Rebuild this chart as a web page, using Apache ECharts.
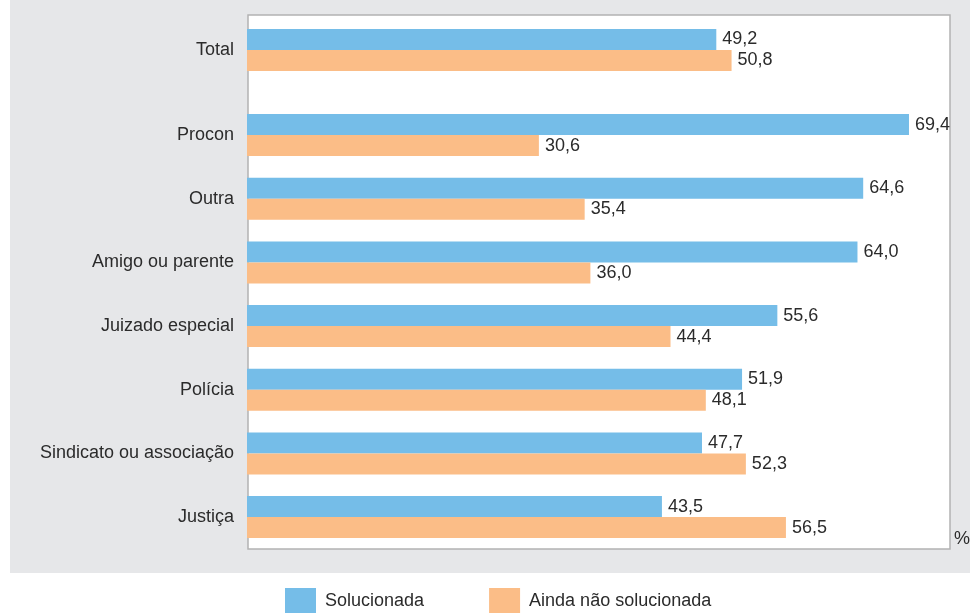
<!DOCTYPE html>
<html>
<head>
<meta charset="utf-8">
<script src="https://cdn.jsdelivr.net/npm/echarts@6/dist/echarts.min.js"></script>
<style>
  html, body { margin: 0; padding: 0; background: #fff; }
  #chart { width: 970px; height: 613px; }
</style>
</head>
<body>
<div id="chart"></div>
<script>
// dados (%)
const totalLabel = ['Total']
const totalSolucionada = [49.2]
const totalNaoSolucionada = [50.8]

const categorias = ['Procon', 'Outra', 'Amigo ou parente', 'Juizado especial', 'Polícia', 'Sindicato ou associação', 'Justiça']
const solucionada = [69.4, 64.6, 64.0, 55.6, 51.9, 47.7, 43.5]
const naoSolucionada = [30.6, 35.4, 36.0, 44.4, 48.1, 52.3, 56.5]

const azul = '#75bde8'
const laranja = '#fbbd87'
const textColor = '#2b2b2b'
const font = 'Liberation Sans, Arial, sans-serif'

const chart = echarts.init(document.getElementById('chart'))

const label = {
  show: true,
  position: 'right',
  distance: 6,
  color: textColor,
  fontSize: 18,
  fontFamily: font,
  formatter: p => p.value.toFixed(1).replace('.', ',')
}

function barra(name, data, color, idx) {
  return {
    name: name,
    type: 'bar',
    xAxisIndex: idx,
    yAxisIndex: idx,
    data: data,
    barWidth: 21,
    barGap: 0,
    itemStyle: { color: color },
    label: label,
    animation: false
  }
}

const valueAxis = idx => ({
  type: 'value',
  gridIndex: idx,
  min: 0,
  max: 73.7,
  show: false,
  splitLine: { show: false }
})

const catAxis = (idx, data) => ({
  type: 'category',
  gridIndex: idx,
  data: data,
  inverse: true,
  axisLine: { show: false },
  axisTick: { show: false },
  axisLabel: { color: textColor, fontSize: 18, fontFamily: font, margin: 13 }
})

chart.setOption({
  backgroundColor: '#ffffff',
  textStyle: { fontFamily: font },
  graphic: [
    { type: 'rect', z: -20, shape: { x: 10, y: 0, width: 960, height: 573 }, style: { fill: '#e6e7e9' } },
    { type: 'rect', z: -10, shape: { x: 248, y: 15, width: 702, height: 534 }, style: { fill: '#ffffff', stroke: '#b3b3b3', lineWidth: 1.5 } },
    { type: 'text', left: 954, top: 530, style: { text: '%', fill: textColor, font: '18px ' + font } }
  ],
  legend: {
    left: 285,
    top: 588,
    padding: 0,
    icon: 'rect',
    itemWidth: 31,
    itemHeight: 26,
    itemGap: 65,
    textStyle: { color: textColor, fontSize: 18, fontFamily: font, padding: [0, 0, 0, 4] },
    data: ['Solucionada', 'Ainda não solucionada']
  },
  grid: [
    { left: 247, right: 20, top: 18, height: 64 },
    { left: 247, right: 20, top: 103.2, height: 445.7 }
  ],
  xAxis: [valueAxis(0), valueAxis(1)],
  yAxis: [catAxis(0, totalLabel), catAxis(1, categorias)],
  series: [
    barra('Solucionada', totalSolucionada, azul, 0),
    barra('Ainda não solucionada', totalNaoSolucionada, laranja, 0),
    barra('Solucionada', solucionada, azul, 1),
    barra('Ainda não solucionada', naoSolucionada, laranja, 1)
  ]
})
</script>
</body>
</html>
